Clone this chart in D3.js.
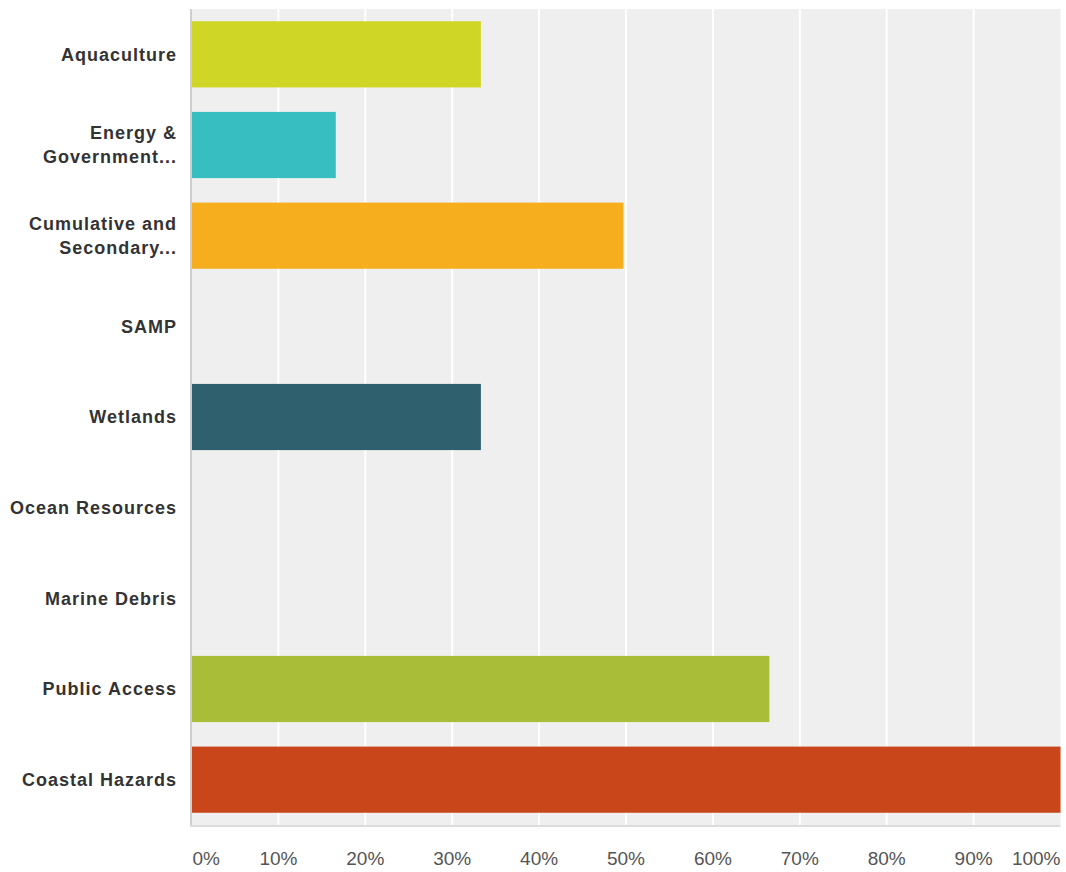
<!DOCTYPE html>
<html>
<head>
<meta charset="utf-8">
<script src="https://cdn.jsdelivr.net/npm/d3@7"></script>
<style>
  html, body { margin: 0; padding: 0; background: #ffffff; }
  svg { display: block; }
  .cat { font-family: "Liberation Sans", Arial, Helvetica, sans-serif; font-weight: bold; font-size: 18px; fill: #333333; letter-spacing: 1px; }
  .tick-label { font-family: "Liberation Sans", Arial, Helvetica, sans-serif; font-size: 19px; fill: #555555; }
</style>
</head>
<body>
<svg id="chart" width="1066" height="872"></svg>
<script>
// Answer categories (line breaks split long labels)
const categories = [
  ["Aquaculture"],
  ["Energy &", "Government..."],
  ["Cumulative and", "Secondary..."],
  ["SAMP"],
  ["Wetlands"],
  ["Ocean Resources"],
  ["Marine Debris"],
  ["Public Access"],
  ["Coastal Hazards"]
];
// Share of respondents, percent
const values = [33.3, 16.6, 49.7, 0, 33.3, 0, 0, 66.5, 100];
const colors = ["#d0d626", "#36bec0", "#f6ae1f", "#8f8f8f", "#2e606e", "#8f8f8f", "#8f8f8f", "#a9bd38", "#c9461b"];
const tickValues = [0, 10, 20, 30, 40, 50, 60, 70, 80, 90, 100];

const svg = d3.select("#chart");
const plot = { left: 191.5, right: 1060.5, top: 9, bottom: 825 };

const x = d3.scaleLinear().domain([0, 100]).range([plot.left, plot.right]);
const y = d3.scaleBand()
  .domain(d3.range(categories.length))
  .range([plot.top, plot.bottom])
  .paddingInner(0.27)
  .paddingOuter(0.135);

// Plot background
svg.append("rect")
  .attr("x", plot.left).attr("y", plot.top)
  .attr("width", plot.right - plot.left).attr("height", plot.bottom - plot.top)
  .attr("fill", "#efefef");

// Vertical grid lines
svg.append("g").selectAll("line")
  .data(tickValues.slice(1, -1))
  .join("line")
  .attr("x1", d => x(d)).attr("x2", d => x(d))
  .attr("y1", plot.top).attr("y2", plot.bottom)
  .attr("stroke", "#ffffff").attr("stroke-width", 2);

// Bars
svg.append("g").selectAll("rect")
  .data(values)
  .join("rect")
  .attr("x", x(0))
  .attr("y", (d, i) => y(i))
  .attr("width", d => x(d) - x(0))
  .attr("height", y.bandwidth())
  .attr("fill", (d, i) => colors[i]);

// Left and bottom axis rules
svg.append("line")
  .attr("x1", plot.left - 0.5).attr("x2", plot.left - 0.5)
  .attr("y1", plot.top).attr("y2", plot.bottom + 2)
  .attr("stroke", "#cfcfcf").attr("stroke-width", 2);
svg.append("line")
  .attr("x1", plot.left - 1.5).attr("x2", plot.right)
  .attr("y1", plot.bottom + 1).attr("y2", plot.bottom + 1)
  .attr("stroke", "#dcdcdc").attr("stroke-width", 2);

// Category labels
const lineGap = 24;
const catG = svg.append("g");
categories.forEach((lines, i) => {
  const cy = y(i) + y.bandwidth() / 2;
  const t = catG.append("text")
    .attr("class", "cat")
    .attr("text-anchor", "end")
    .attr("x", 177);
  lines.forEach((ln, k) => {
    t.append("tspan")
      .attr("x", 177)
      .attr("y", cy + (k - (lines.length - 1) / 2) * lineGap)
      .attr("dy", "0.35em")
      .text(ln);
  });
});

// X tick labels
svg.append("g").selectAll("text")
  .data(tickValues)
  .join("text")
  .attr("class", "tick-label")
  .attr("x", (d, i) => i === 0 ? x(d) + 1 : x(d))
  .attr("y", 858)
  .attr("dy", "0.35em")
  .attr("text-anchor", (d, i) => i === 0 ? "start" : (i === tickValues.length - 1 ? "end" : "middle"))
  .text(d => d + "%");
</script>
</body>
</html>
